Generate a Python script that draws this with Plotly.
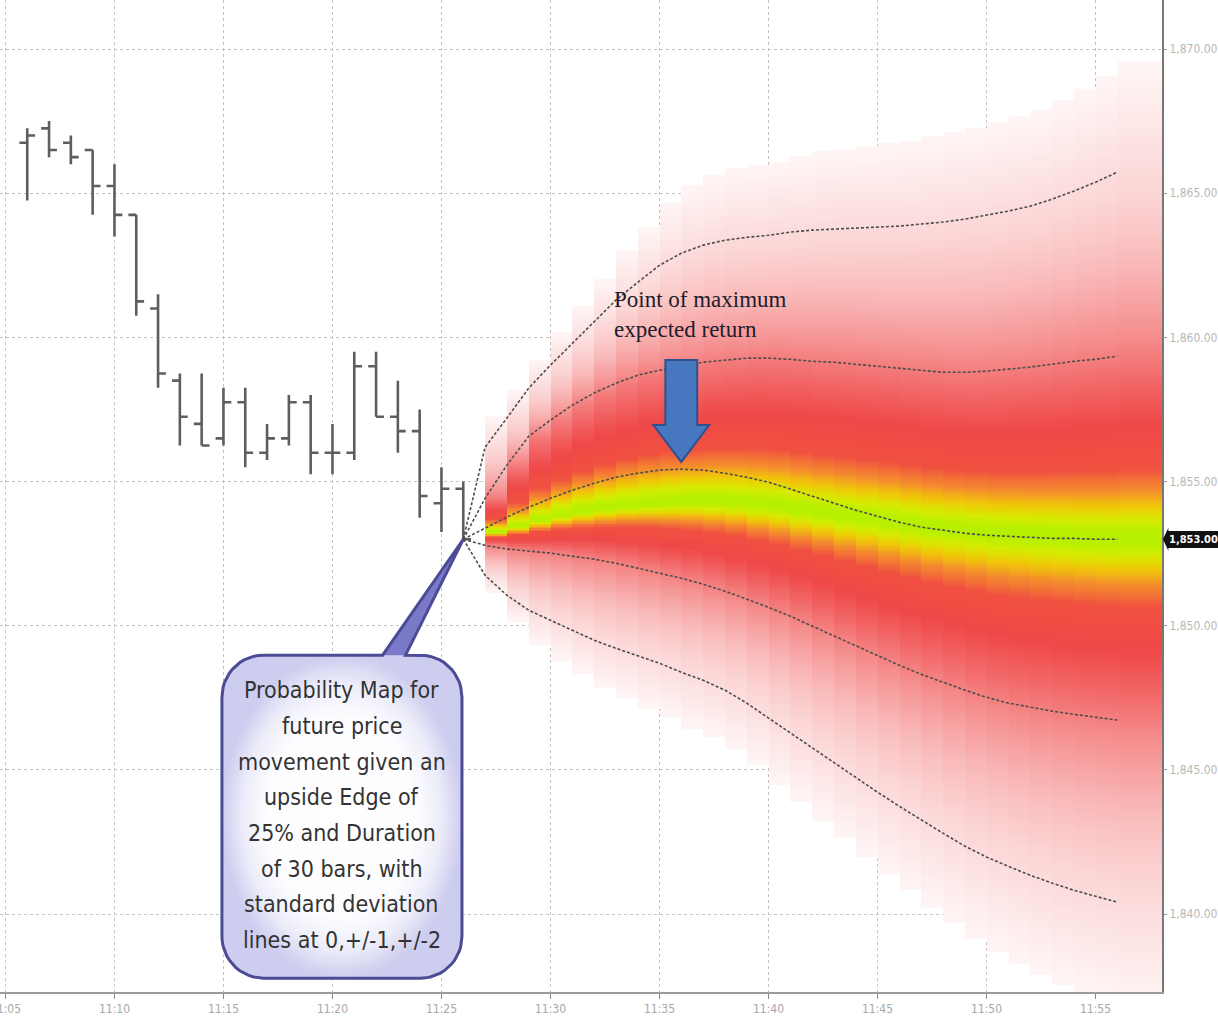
import numpy as np
import plotly.graph_objects as go

# ---- price bars (x = minutes after 11:00) ----
bar_minute = list(range(6, 27))
bar_open = [1866.75, 1867.25, 1866.75, 1866.50, 1865.25, 1864.25, 1861.00, 1858.50,
            1857.00, 1856.50, 1857.75, 1856.00, 1856.50, 1857.75, 1856.00, 1856.00,
            1859.00, 1857.25, 1856.75, 1854.25, 1854.75]
bar_high = [1867.25, 1867.50, 1867.00, 1866.50, 1866.00, 1864.25, 1861.50, 1858.75,
            1858.75, 1858.25, 1858.25, 1857.00, 1858.00, 1858.00, 1857.00, 1859.50,
            1859.50, 1858.50, 1857.50, 1855.50, 1855.00]
bar_low = [1864.75, 1866.25, 1866.00, 1864.25, 1863.50, 1860.75, 1858.25, 1856.25,
           1856.25, 1856.25, 1855.50, 1855.75, 1856.25, 1855.25, 1855.25, 1855.75,
           1857.25, 1856.00, 1853.75, 1853.25, 1853.00]
bar_close = [1867.00, 1866.50, 1866.25, 1865.25, 1864.25, 1861.25, 1858.75, 1857.25,
             1856.25, 1857.75, 1856.00, 1856.50, 1857.75, 1856.00, 1856.00, 1859.00,
             1857.25, 1856.75, 1854.50, 1854.75, 1853.00]

# ---- projected distribution, one value per minute from 11:26 to 11:56 ----
proj_minute = list(range(26, 57))
mean_path = [1853.00, 1853.38, 1853.77, 1854.11, 1854.42, 1854.70, 1854.94, 1855.15,
             1855.29, 1855.40, 1855.43, 1855.40, 1855.29, 1855.15, 1854.98, 1854.74,
             1854.49, 1854.25, 1854.01, 1853.80, 1853.59, 1853.42, 1853.31, 1853.21,
             1853.14, 1853.10, 1853.07, 1853.03, 1853.03, 1853.00, 1853.00]
plus1_path = [1853.00, 1854.42, 1855.57, 1856.57, 1857.13, 1857.65, 1858.07, 1858.41,
              1858.69, 1858.86, 1859.00, 1859.14, 1859.21, 1859.28, 1859.28, 1859.24,
              1859.17, 1859.14, 1859.07, 1859.00, 1858.93, 1858.86, 1858.79, 1858.79,
              1858.83, 1858.90, 1858.97, 1859.07, 1859.17, 1859.24, 1859.35]
plus2_path = [1853.00, 1856.19, 1857.20, 1858.24, 1859.04, 1859.80, 1860.53, 1861.29,
              1861.91, 1862.50, 1862.92, 1863.20, 1863.37, 1863.47, 1863.54, 1863.65,
              1863.72, 1863.75, 1863.79, 1863.82, 1863.86, 1863.93, 1864.00, 1864.10,
              1864.24, 1864.38, 1864.55, 1864.79, 1865.07, 1865.38, 1865.73]
minus1_path = [1853.00, 1852.79, 1852.66, 1852.59, 1852.52, 1852.41, 1852.31, 1852.17,
               1852.00, 1851.82, 1851.65, 1851.44, 1851.20, 1850.92, 1850.64, 1850.33,
               1849.99, 1849.64, 1849.29, 1848.95, 1848.63, 1848.32, 1848.04, 1847.77,
               1847.52, 1847.32, 1847.18, 1847.04, 1846.93, 1846.83, 1846.73]
minus2_path = [1853.00, 1851.75, 1851.06, 1850.54, 1850.19, 1849.85, 1849.50, 1849.22,
               1848.95, 1848.70, 1848.39, 1848.11, 1847.77, 1847.32, 1846.80, 1846.28,
               1845.76, 1845.24, 1844.72, 1844.23, 1843.74, 1843.26, 1842.81, 1842.36,
               1841.98, 1841.66, 1841.35, 1841.08, 1840.83, 1840.62, 1840.42]
# price where the probability density peaks in each minute
mode_path = [1853.00, 1853.25, 1853.45, 1853.66, 1853.83, 1853.97, 1854.08, 1854.18,
             1854.25, 1854.29, 1854.32, 1854.32, 1854.29, 1854.22, 1854.15, 1854.04,
             1853.94, 1853.83, 1853.73, 1853.63, 1853.52, 1853.42, 1853.35, 1853.28,
             1853.21, 1853.18, 1853.14, 1853.11, 1853.07, 1853.04, 1853.04]

x_ticks = list(range(5, 60, 5))
x_ticklabels = [f"11:{m:02d}" for m in x_ticks]
y_ticks = [1840, 1845, 1850, 1855, 1860, 1865, 1870]

callout_lines = ["Probability Map for", "future price", "movement given an",
                 "upside Edge of", "25% and Duration", "of 30 bars, with",
                 "standard deviation", "lines at 0,+/-1,+/-2"]

NARROW = "Liberation Sans Narrow, Arial Narrow, DejaVu Sans Condensed, Liberation Sans"

# ---- probability map: one column per minute, shaded by sigma distance ----
price_grid = np.arange(1836.0, 1872.0, 0.05)
heat_cols = list(range(27, 59))
z = np.full((len(price_grid), len(heat_cols)), np.nan)
SIG_MAX = 2.6
for k, m in enumerate(heat_cols):
    i = min(m, proj_minute[-1]) - proj_minute[0]
    c, u1, u2 = mode_path[i], plus1_path[i], plus2_path[i]
    d1, d2 = minus1_path[i], minus2_path[i]
    p = price_grid
    su = np.where(p <= u1, (p - c) / (u1 - c),
                  np.where(p <= u2, 1 + (p - u1) / (u2 - u1), 2 + (p - u2) / (u2 - u1)))
    sd = np.where(p >= d1, (c - p) / (c - d1),
                  np.where(p >= d2, 1 + (d1 - p) / (d1 - d2), 2 + (d2 - p) / (d1 - d2)))
    s = np.where(p >= c, su, sd)
    dens = np.exp(-0.5 * s ** 2)
    dens[s > SIG_MAX] = np.nan
    z[:, k] = dens

zmin = float(np.exp(-0.5 * SIG_MAX ** 2))
sigma_colors = [(0.0, "#b6f000"), (0.09, "#d4ec00"), (0.17, "#f0c808"),
                (0.26, "#f48c2e"), (0.38, "#f05040"), (0.62, "#ef4848"),
                (0.85, "#f26666"), (1.1, "#f58c8c"), (1.5, "#f9b8b8"),
                (2.0, "#fcdada"), (2.3, "#fde8e8"), (2.6, "#fff5f5")]
colorscale = []
for sgm, col in reversed(sigma_colors):
    pos = (np.exp(-0.5 * sgm ** 2) - zmin) / (1 - zmin)
    colorscale.append([float(min(max(pos, 0.0), 1.0)), col])

fig = go.Figure()

fig.add_trace(go.Heatmap(
    x=[m + 0.5 for m in heat_cols], y=price_grid, z=z,
    colorscale=colorscale, zmin=zmin, zmax=1.0, showscale=False,
    hoverinfo="skip"))

for path in (plus2_path, plus1_path, mean_path, minus1_path, minus2_path):
    fig.add_trace(go.Scatter(
        x=proj_minute, y=path, mode="lines",
        line=dict(color="#4d4d4d", width=1.6, dash="3px,2px"),
        hoverinfo="skip"))

fig.add_trace(go.Ohlc(
    x=bar_minute, open=bar_open, high=bar_high, low=bar_low, close=bar_close,
    increasing=dict(line=dict(color="#5e5e5e", width=2.6)),
    decreasing=dict(line=dict(color="#5e5e5e", width=2.6)),
    tickwidth=0.36, hoverinfo="skip"))

# ---- callout bubble anchored on the last close ----
bx0, bx1, by0, by1 = 14.93, 25.94, 1837.78, 1848.98
rx, ry = 1.9, 1.45
tip_x, tip_y = bar_minute[-1], bar_close[-1]
wedge_l, wedge_r = 22.3, 23.35


def arc(cx, cy, a0, a1, n=14):
    t = np.radians(np.linspace(a0, a1, n))
    return list(cx + rx * np.cos(t)), list(cy + ry * np.sin(t))


def bubble(with_wedge):
    xs, ys = [], []
    ax, ay = arc(bx0 + rx, by1 - ry, 180, 90)
    xs += ax; ys += ay
    if with_wedge:
        xs += [wedge_l, tip_x, wedge_r]; ys += [by1, tip_y, by1]
    ax, ay = arc(bx1 - rx, by1 - ry, 90, 0)
    xs += ax; ys += ay
    ax, ay = arc(bx1 - rx, by0 + ry, 0, -90)
    xs += ax; ys += ay
    ax, ay = arc(bx0 + rx, by0 + ry, -90, -180)
    xs += ax; ys += ay
    xs.append(xs[0]); ys.append(ys[0])
    return xs, ys


wx, wy = bubble(True)
fig.add_trace(go.Scatter(x=wx, y=wy, mode="lines", fill="toself", fillcolor="#7a7ac6",
                         line=dict(width=0), hoverinfo="skip"))
bxs, bys = bubble(False)
fig.add_trace(go.Scatter(x=bxs, y=bys, mode="lines", fill="toself",
                         fillgradient=dict(type="radial",
                                           colorscale=[[0, "#ffffff"], [0.62, "#fdfdff"],
                                                       [0.82, "#ededfa"], [1, "#cdcdef"]]),
                         line=dict(width=0), hoverinfo="skip"))
fig.add_trace(go.Scatter(x=wx, y=wy, mode="lines", line=dict(color="#4b4b96", width=3),
                         hoverinfo="skip"))

# callout text, one line per annotation for even spacing
line_step = 1.238
first_line_y = by1 - 1.214
for n, txt in enumerate(callout_lines):
    fig.add_annotation(x=(bx0 + bx1) / 2, y=first_line_y - n * line_step,
                       xref="x", yref="y", text=txt, showarrow=False,
                       font=dict(family=NARROW, size=23, color="#333333"))

# ---- block arrow at the maximum of the expected path ----
ipk = int(np.argmax(mean_path))
ax_c = proj_minute[ipk]
a_tip = mean_path[ipk] + 0.25
head_h, shaft_h, head_w, shaft_w = 1.28, 3.54, 1.28, 0.73
arrow_path = (f"M {ax_c - shaft_w},{a_tip + shaft_h} L {ax_c + shaft_w},{a_tip + shaft_h} "
              f"L {ax_c + shaft_w},{a_tip + head_h} L {ax_c + head_w},{a_tip + head_h} "
              f"L {ax_c},{a_tip} L {ax_c - head_w},{a_tip + head_h} "
              f"L {ax_c - shaft_w},{a_tip + head_h} Z")
fig.add_shape(type="path", path=arrow_path, xref="x", yref="y",
              fillcolor="#4677bf", line=dict(color="#2f528f", width=2))
fig.add_annotation(x=ax_c - 3.2, y=a_tip + shaft_h, xref="x", yref="y",
                   xanchor="left", yanchor="bottom", yshift=16,
                   text="Point of maximum<br>expected return", showarrow=False,
                   align="left",
                   font=dict(family="Liberation Serif, Times New Roman, serif", size=23,
                             color="#1d1d2b"))

# ---- last price tag on the price axis ----
last = bar_close[-1]
fig.add_annotation(x=1, y=last, xref="paper", yref="y", xanchor="left", xshift=5,
                   text=f"<b>{last:,.2f}</b>", showarrow=False, bgcolor="#111111",
                   bordercolor="#111111", borderpad=1,
                   font=dict(family=NARROW, size=11, color="white"))
fig.add_shape(type="path", xref="paper", yref="y",
              path=f"M 1.0008,{last} L 1.0055,{last + 0.4} L 1.0055,{last - 0.4} Z",
              fillcolor="#111111", line=dict(width=0))

fig.update_layout(
    width=1218, height=1021,
    margin=dict(l=0, r=56, t=0, b=29, autoexpand=False),
    paper_bgcolor="white", plot_bgcolor="white",
    showlegend=False,
    xaxis=dict(range=[4.75, 58.05], tickvals=x_ticks, ticktext=x_ticklabels,
               automargin=False,
               showgrid=True, gridcolor="#c4c4c4", griddash="dot", gridwidth=1,
               zeroline=False, showline=True, linecolor="#9a9a9a", linewidth=2,
               ticks="outside", ticklen=5, tickcolor="#8a8a8a",
               tickfont=dict(family=NARROW, size=12, color="#a8a8a8"),
               ticklabeloverflow="allow", rangeslider=dict(visible=False)),
    yaxis=dict(range=[1837.30, 1871.70], side="right", tickvals=y_ticks,
               automargin=False,
               tickformat=",.2f", showgrid=True, gridcolor="#c4c4c4", griddash="dot",
               gridwidth=1, zeroline=False, showline=True, linecolor="#777777",
               linewidth=2, ticks="outside", ticklen=3, tickcolor="#9a9a9a",
               tickfont=dict(family=NARROW, size=12, color="#b8b8b8")),
)

fig.write_html("out.html")
